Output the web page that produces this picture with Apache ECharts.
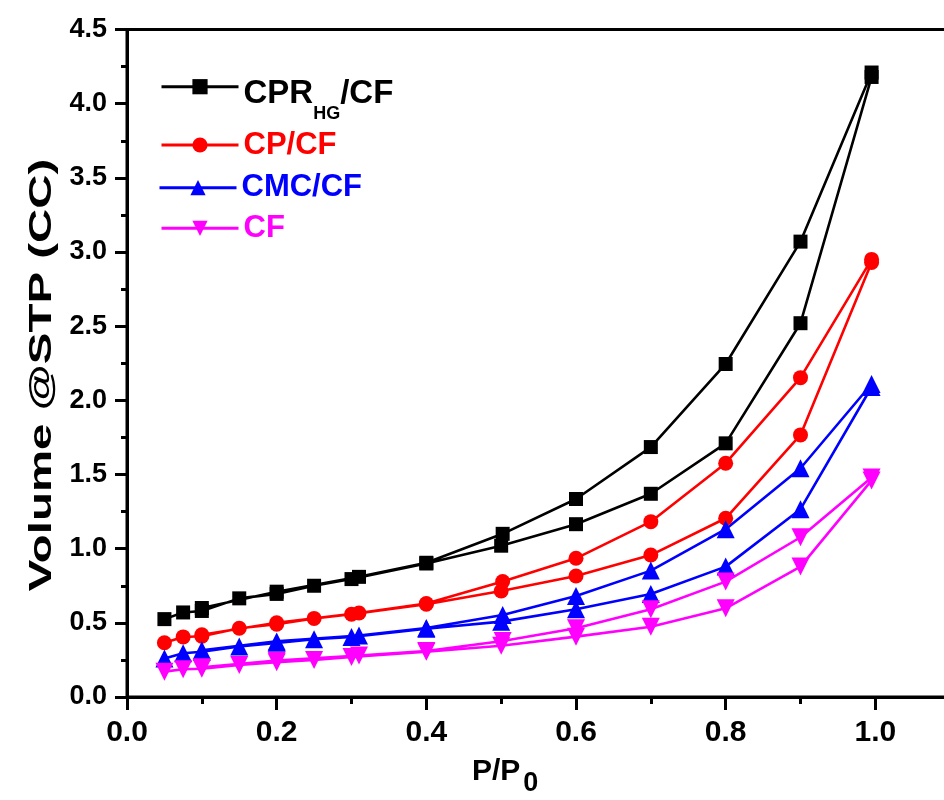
<!DOCTYPE html>
<html>
<head>
<meta charset="utf-8">
<script src="https://cdn.jsdelivr.net/npm/echarts@6/dist/echarts.min.js"></script>
<style>
html,body{margin:0;padding:0;background:#fff;}
#chart{width:944px;height:800px;}
</style>
</head>
<body>
<div id="chart"></div>
<script>
// Relative pressure (P/P0) for adsorption and desorption branches
const pAds = [0.05, 0.075, 0.1, 0.15, 0.2, 0.25, 0.3, 0.4, 0.5, 0.6, 0.7, 0.8, 0.9, 0.995];
const pDes = [0.995, 0.9, 0.8, 0.7, 0.6, 0.502, 0.4, 0.31, 0.2, 0.1];

// Volume @STP (CC)
const cprAds = [0.525, 0.57, 0.58, 0.665, 0.695, 0.75, 0.795, 0.90, 1.02, 1.165, 1.37, 1.71, 2.52, 4.18];
const cprDes = [4.21, 3.07, 2.245, 1.685, 1.335, 1.10, 0.905, 0.81, 0.71, 0.60];

const cpAds = [0.366, 0.405, 0.41, 0.463, 0.49, 0.53, 0.558, 0.625, 0.715, 0.816, 0.957, 1.205, 1.767, 2.93];
const cpDes = [2.95, 2.153, 1.576, 1.182, 0.935, 0.778, 0.63, 0.566, 0.50, 0.42];

const cmcAds = [0.26, 0.295, 0.305, 0.34, 0.365, 0.389, 0.405, 0.46, 0.508, 0.591, 0.695, 0.879, 1.266, 2.09];
const cmcDes = [2.11, 1.542, 1.131, 0.852, 0.681, 0.553, 0.465, 0.415, 0.375, 0.315];

const cfAds = [0.171, 0.187, 0.19, 0.216, 0.235, 0.25, 0.27, 0.305, 0.346, 0.407, 0.474, 0.598, 0.879, 1.46];
const cfDes = [1.48, 1.077, 0.778, 0.591, 0.463, 0.378, 0.31, 0.28, 0.245, 0.2];

const seriesNames = ['CPR_HG/CF', 'CP/CF', 'CMC/CF', 'CF'];
const seriesColors = ['#000000', '#ff0000', '#0000ff', '#ff00ff'];

function loop(ads, des) {
  return ads.map((v, i) => [pAds[i], v]).concat(des.map((v, i) => [pDes[i], v]));
}

const FONT = '"Liberation Sans", Arial, Helvetica, sans-serif';
const chart = echarts.init(document.getElementById('chart'));

function mkSeries(name, color, data, symbol, size, rotate) {
  return {
    name: name, type: 'line', data: data,
    symbol: symbol, symbolSize: size, symbolRotate: rotate || 0,
    lineStyle: {color: color, width: 2.6},
    itemStyle: {color: color},
    emphasis: {disabled: true},
    clip: true
  };
}

function mkLegend(name, color, top, extra) {
  const lg = {
    data: [{name: name, textStyle: {color: color}}],
    left: 155, top: top,
    itemWidth: 77, itemHeight: 19,
    selectedMode: false,
    lineStyle: {width: 3},
    textStyle: {fontFamily: FONT, fontWeight: 'bold', fontSize: 31, lineHeight: 34, color: color}
  };
  return Object.assign(lg, extra || {});
}

chart.setOption({
  animation: false,
  backgroundColor: '#fff',
  grid: {left: 127, top: 29.5, height: 667.5, width: 898, outerBoundsMode: 'none', containLabel: false,
         show: true, borderColor: '#000', borderWidth: 3, backgroundColor: 'transparent'},
  xAxis: {
    type: 'value', min: 0, max: 1.2, interval: 0.2,
    axisLine: {show: true, onZero: false, lineStyle: {color: '#000', width: 3}},
    axisTick: {show: true, inside: false, length: 13, lineStyle: {width: 3, color: '#000'}},
    minorTick: {show: true, splitNumber: 2, length: 7, lineStyle: {width: 3, color: '#000'}},
    splitLine: {show: false},
    axisLabel: {
      showMaxLabel: false, margin: 21, color: '#000',
      fontFamily: FONT, fontWeight: 'bold', fontSize: 30,
      formatter: v => v.toFixed(1)
    }
  },
  yAxis: {
    type: 'value', min: 0, max: 4.5, interval: 0.5,
    axisLine: {show: true, onZero: false, lineStyle: {color: '#000', width: 3}},
    axisTick: {show: true, inside: false, length: 12, lineStyle: {width: 3, color: '#000'}},
    minorTick: {show: true, splitNumber: 2, length: 6, lineStyle: {width: 3, color: '#000'}},
    splitLine: {show: false},
    axisLabel: {
      margin: 20, color: '#000',
      fontFamily: FONT, fontWeight: 'bold', fontSize: 27,
      formatter: v => v.toFixed(1)
    }
  },
  legend: [
    mkLegend(seriesNames[0], seriesColors[0], 63.7, {
      formatter: () => '{a|CPR}{s|HG}{a|/CF}',
      textStyle: {
        fontFamily: FONT, fontWeight: 'bold', color: '#000',
        rich: {
          a: {fontFamily: FONT, fontWeight: 'bold', fontSize: 33, lineHeight: 36, padding: [9, 0, 0, 0], verticalAlign: 'top', color: '#000'},
          s: {fontFamily: FONT, fontWeight: 'bold', fontSize: 18, lineHeight: 18, padding: [36, 0, 0, 0], verticalAlign: 'top', color: '#000'}
        }
      }
    }),
    mkLegend(seriesNames[1], seriesColors[1], 123),
    mkLegend(seriesNames[2], seriesColors[2], 165.7, {left: 153}),
    mkLegend(seriesNames[3], seriesColors[3], 206.3)
  ],
  graphic: [
    {
      type: 'text', x: 43, y: 375, rotation: Math.PI / 2, scaleX: 1.58, scaleY: 1.02,
      style: {text: 'Volume @STP (CC)', font: 'bold 30px ' + FONT, fill: '#000', align: 'center', verticalAlign: 'middle'}
    },
    {
      type: 'text', x: 472, y: 757,
      style: {
        text: '{a|P/P}{b|0}', fill: '#000', align: 'left', verticalAlign: 'top',
        rich: {
          a: {fontFamily: FONT, fontWeight: 'bold', fontSize: 30, lineHeight: 32, verticalAlign: 'top', fill: '#000'},
          b: {fontFamily: FONT, fontWeight: 'bold', fontSize: 27, lineHeight: 27, padding: [13, 0, 0, 3], verticalAlign: 'top', fill: '#000'}
        }
      }
    }
  ],
  series: [
    mkSeries(seriesNames[0], seriesColors[0], loop(cprAds, cprDes), 'rect', 14),
    mkSeries(seriesNames[1], seriesColors[1], loop(cpAds, cpDes), 'circle', 15),
    mkSeries(seriesNames[2], seriesColors[2], loop(cmcAds, cmcDes), 'triangle', 18),
    mkSeries(seriesNames[3], seriesColors[3], loop(cfAds, cfDes), 'triangle', 18, 180)
  ]
});
</script>
</body>
</html>
